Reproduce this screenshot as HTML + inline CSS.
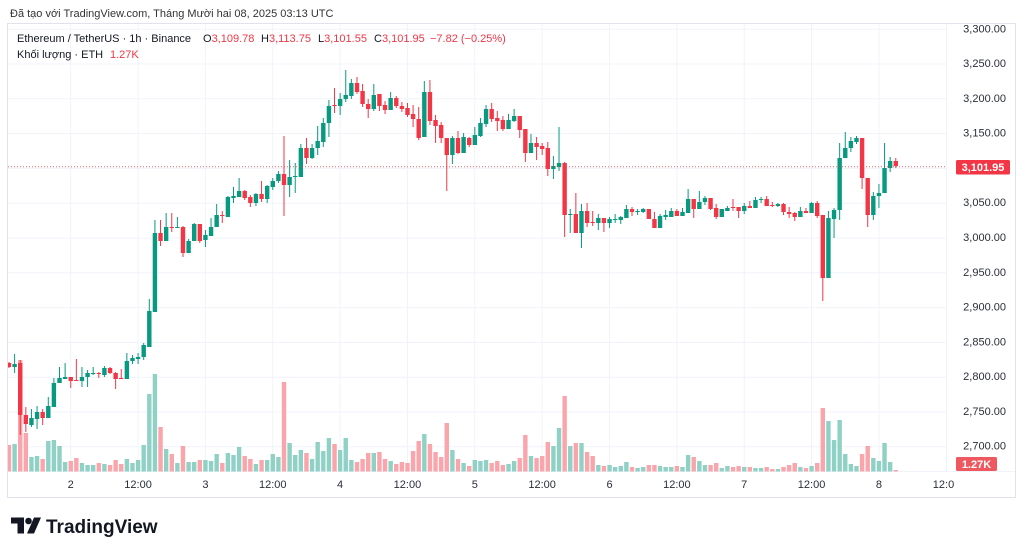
<!DOCTYPE html>
<html><head><meta charset="utf-8">
<style>
html,body{margin:0;padding:0;background:#fff;}
body{width:1024px;height:554px;overflow:hidden;position:relative;font-family:"Liberation Sans",sans-serif;}
.t{position:absolute;white-space:nowrap;font-size:11px;line-height:12px;color:#131722;}
.r{color:#f23645;}
</style></head><body>
<svg id="s" width="1024" height="554" viewBox="0 0 1024 554" style="position:absolute;left:0;top:0" font-family="Liberation Sans, sans-serif">
<defs><clipPath id="cp"><rect x="8" y="24" width="939" height="448"/></clipPath></defs>
<rect x="7.5" y="23.5" width="1008" height="474" fill="#fff" stroke="#e0e3eb"/>
<g stroke="#f0f3fa" stroke-width="1">
<line x1="8" x2="947" y1="29.2" y2="29.2"/><line x1="8" x2="947" y1="64" y2="64"/><line x1="8" x2="947" y1="98.8" y2="98.8"/><line x1="8" x2="947" y1="133.6" y2="133.6"/><line x1="8" x2="947" y1="168.4" y2="168.4"/><line x1="8" x2="947" y1="203.2" y2="203.2"/><line x1="8" x2="947" y1="238" y2="238"/><line x1="8" x2="947" y1="272.8" y2="272.8"/><line x1="8" x2="947" y1="307.6" y2="307.6"/><line x1="8" x2="947" y1="342.4" y2="342.4"/><line x1="8" x2="947" y1="377.2" y2="377.2"/><line x1="8" x2="947" y1="412" y2="412"/><line x1="8" x2="947" y1="446.7" y2="446.7"/>
<line x1="70.7" x2="70.7" y1="24" y2="472"/><line x1="138.05" x2="138.05" y1="24" y2="472"/><line x1="205.4" x2="205.4" y1="24" y2="472"/><line x1="272.75" x2="272.75" y1="24" y2="472"/><line x1="340.1" x2="340.1" y1="24" y2="472"/><line x1="407.45" x2="407.45" y1="24" y2="472"/><line x1="474.8" x2="474.8" y1="24" y2="472"/><line x1="542.15" x2="542.15" y1="24" y2="472"/><line x1="609.5" x2="609.5" y1="24" y2="472"/><line x1="676.85" x2="676.85" y1="24" y2="472"/><line x1="744.2" x2="744.2" y1="24" y2="472"/><line x1="811.55" x2="811.55" y1="24" y2="472"/><line x1="878.9" x2="878.9" y1="24" y2="472"/>
<line x1="946.5" x2="946.5" y1="24" y2="472"/>
<line x1="8" x2="1015" y1="471.5" y2="471.5"/>
</g>
<g id="vol" clip-path="url(#cp)"></g>
<g id="cnd" clip-path="url(#cp)"></g>
<line x1="8" x2="947" y1="166.7" y2="166.7" stroke="#f23645" stroke-width="1" stroke-dasharray="1,2" opacity="0.8"/>
<g font-size="11" fill="#2a2e39" text-anchor="end">
<text x="1006" y="32.5">3,300.00</text>
<text x="1006" y="67">3,250.00</text>
<text x="1006" y="101.8">3,200.00</text>
<text x="1006" y="136.6">3,150.00</text>
<text x="1006" y="206.2">3,050.00</text>
<text x="1006" y="241">3,000.00</text>
<text x="1006" y="275.8">2,950.00</text>
<text x="1006" y="310.6">2,900.00</text>
<text x="1006" y="345.4">2,850.00</text>
<text x="1006" y="380.2">2,800.00</text>
<text x="1006" y="415">2,750.00</text>
<text x="1006" y="449.7">2,700.00</text>
</g>
<rect x="956" y="160" width="54" height="14.5" rx="1.5" fill="#f23645"/>
<text x="983" y="171" font-size="11" fill="#fff" text-anchor="middle" font-weight="bold">3,101.95</text>
<rect x="956" y="457" width="41" height="14" rx="1.5" fill="#f0585f"/>
<text x="976.5" y="468" font-size="11" fill="#fff" text-anchor="middle" font-weight="bold">1.27K</text>
<g font-size="11" fill="#2a2e39" text-anchor="middle">
<text x="70.7" y="488">2</text><text x="138.05" y="488">12:00</text>
<text x="205.4" y="488">3</text><text x="272.75" y="488">12:00</text>
<text x="340.1" y="488">4</text><text x="407.45" y="488">12:00</text>
<text x="474.8" y="488">5</text><text x="542.15" y="488">12:00</text>
<text x="609.5" y="488">6</text><text x="676.85" y="488">12:00</text>
<text x="744.2" y="488">7</text><text x="811.55" y="488">12:00</text>
<text x="878.9" y="488">8</text><text x="943.5" y="488">12:0</text>
</g>
<g fill="#131722">
<path d="M11 517.5h13v16h-6.5v-10h-6.5z"/>
<circle cx="28.5" cy="521" r="3.3"/>
<path d="M34 517.5h7l-7 16h-7z"/>
</g>
<text x="46" y="533" font-size="19" font-weight="bold" fill="#131722">TradingView</text>
</svg>
<div class="t" style="left:10px;top:8px;color:#333;">Đã tạo với TradingView.com, Tháng Mười hai 08, 2025 03:13 UTC</div>
<div class="t" style="left:17px;top:33px;">Ethereum / TetherUS · 1h · Binance</div>
<div class="t" style="left:203px;top:33px;">O<span class="r">3,109.78</span></div>
<div class="t" style="left:261px;top:33px;">H<span class="r">3,113.75</span></div>
<div class="t" style="left:318px;top:33px;">L<span class="r">3,101.55</span></div>
<div class="t" style="left:374px;top:33px;">C<span class="r">3,101.95</span></div>
<div class="t r" style="left:430px;top:33px;">−7.82 (−0.25%)</div>
<div class="t" style="left:17px;top:49px;">Khối lượng · ETH</div>
<div class="t r" style="left:110px;top:49px;">1.27K</div>
<script>
var D=[
['r',363,367,362,368,445],['g',364,367,354,373,444],['r',363,415,360,435,360],['r',415,424,407,432,433],['g',418,425,409,427,457],
['g',412,419,406,429,456],['r',412,418,409,425,459],['g',406,418,397,418,441],['g',383,407,378,407,440],['g',378,383,367,383,446],
['g',377,379,363,379,462],['r',377,381,377,388,461],['r',380,381,359,381,458],['g',377,381,367,387,463],['g',373,377,370,387,465],
['g',373,374,367,375,465],['r',373,374,372,378,463],['g',368,375,366,377,464],['r',368,373,367,374,465],['r',373,379,372,389,460],
['r',378,379,369,379,464],['g',361,379,353,379,459],['g',358,361,355,364,463],['g',357,359,353,364,460],['g',345,357,343,360,445],
['g',311,347,299,347,394],['g',233,312,220,312,374],['r',233,241,220,246,427],['g',227,241,213,241,449],['r',227,228,213,232,454],
['g',227,228,217,228,463],['r',227,253,226,257,446],['g',241,253,239,253,462],['g',224,241,223,241,462],['r',224,241,224,243,460],
['g',235,240,230,247,460],['g',227,236,218,236,461],['g',215,227,204,227,454],['r',215,216,211,223,463],['g',197,217,196,217,453],
['g',196,198,187,203,455],['g',191,197,178,197,447],['r',191,198,190,200,456],['r',197,203,195,207,459],['g',194,203,193,206,464],
['r',194,199,181,202,460],['g',186,199,185,203,460],['g',181,187,178,190,454],['g',174,181,171,183,457],['r',174,185,136,216,382],
['g',177,185,160,197,443],['g',176,177,163,193,455],['g',148,177,144,177,450],['r',148,158,138,164,453],['g',148,158,144,159,459],
['g',141,148,126,155,442],['g',123,142,118,147,451],['g',106,123,100,137,438],['r',105,106,88,113,444],['g',99,106,93,115,450],
['g',95,99,70,102,438],['g',83,96,79,99,460],['r',83,92,77,94,462],['r',91,104,84,107,459],['r',104,109,99,118,453],
['g',95,109,84,111,453],['r',94,106,94,111,452],['r',105,110,101,114,459],['g',98,110,92,110,461],['r',98,106,96,108,464],
['r',106,109,102,112,462],['r',108,115,103,117,463],['r',114,119,105,127,451],['r',119,138,107,140,441],['g',92,137,81,137,434],
['r',92,121,80,125,444],['r',120,126,115,143,452],['r',125,138,122,143,457],['r',138,155,138,191,423],['g',138,155,136,164,450],
['r',138,153,131,154,459],['g',137,153,133,153,463],['r',138,145,137,147,466],['g',135,145,127,145,460],['g',123,136,118,137,461],
['g',109,124,105,127,460],['r',109,119,103,122,463],['r',118,121,111,131,461],['r',120,129,116,131,465],['g',120,129,114,129,464],
['g',116,121,109,122,461],['r',116,130,116,138,458],['r',129,153,129,162,435],['g',143,153,134,153,456],['r',143,147,137,160,458],
['r',146,149,143,155,456],['r',148,169,142,176,442],['g',166,169,156,179,446],['g',163,167,127,171,428],['r',163,215,162,237,396],
['g',214,215,209,233,446],['r',214,233,193,233,443],['g',211,233,204,248,443],['r',211,223,203,227,452],['r',222,223,211,226,456],
['g',218,223,214,230,465],['r',218,223,218,232,466],['g',219,223,217,228,465],['g',219,220,214,223,467],['g',217,220,216,224,466],
['g',209,218,205,218,462],['r',209,212,207,216,467],['g',211,212,209,215,468],['g',209,212,208,213,467],['r',209,219,209,219,465],
['r',219,228,212,228,465],['g',216,228,214,228,466],['g',215,217,210,220,467],['g',211,217,208,217,467],['r',211,216,209,216,466],
['g',212,216,208,216,467],['g',199,213,189,213,455],['r',199,209,199,218,457],['g',202,209,191,209,461],['g',198,202,196,205,465],
['r',198,209,198,210,465],['r',208,217,204,219,463],['g',209,217,209,217,468],['g',208,211,206,211,466],['r',207,208,199,211,467],
['r',207,211,207,218,466],['g',206,211,203,214,467],['r',206,208,201,208,467],['g',200,208,197,208,468],['g',199,200,197,203,468],
['r',199,206,196,206,467],['r',205,206,202,207,469],['g',204,206,203,207,469],['r',204,212,203,215,467],['r',212,214,207,218,465],
['r',213,217,212,221,463],['g',211,217,207,217,467],['r',211,213,208,213,468],['g',203,213,202,213,466],['r',203,216,201,218,463],
['r',215,278,215,301,408],['g',218,278,211,278,421],['g',210,219,208,238,440],['g',158,210,143,220,420],['g',148,158,132,158,454],
['g',141,148,137,152,464],['g',138,142,136,144,466],['r',138,178,138,189,454],['r',178,215,178,227,446],['g',196,215,192,220,458],
['g',193,196,184,208,461],['g',168,193,143,193,443],['g',161,168,157,172,462],['r',161,166,158,168,470]
];
var NS='http://www.w3.org/2000/svg';
var gv=document.getElementById('vol'),gc=document.getElementById('cnd');
function el(p,tag,a){var e=document.createElementNS(NS,tag);for(var k in a)e.setAttribute(k,a[k]);p.appendChild(e);}
var W=4.4,B=471.5;
for(var i=0;i<D.length;i++){
 var d=D[i],x=9.0+i*5.6125,g=d[0]=='g';
 var c=g?'#089981':'#f23645',vc=g?'#90d1c6':'#f9a5ab';
 el(gv,'rect',{x:x-W/2,y:d[5],width:W,height:Math.max(1,B-d[5]),fill:vc});
 el(gc,'line',{x1:x,x2:x,y1:d[3],y2:d[4],stroke:c,'stroke-width':1});
 el(gc,'rect',{x:x-W/2,y:d[1],width:W,height:Math.max(1,d[2]-d[1]),fill:c});
}
</script>
</body></html>
